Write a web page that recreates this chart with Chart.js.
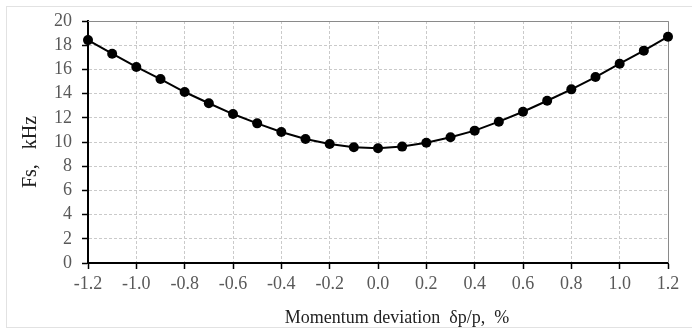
<!DOCTYPE html>
<html>
<head>
<meta charset="utf-8">
<script src="https://cdn.jsdelivr.net/npm/chart.js@4.4.1/dist/chart.umd.min.js"></script>
<style>
  html, body { margin: 0; padding: 0; background: #fff; }
  #wrap { position: relative; width: 692px; height: 329px; overflow: hidden; }
  #frame { position: absolute; left: 6px; top: 6px; width: 720px; height: 322px;
           box-sizing: border-box; border: 1px solid #e2e2e2; }
  #fsChart { position: absolute; left: 0; top: 0; }
</style>
</head>
<body>
<div id="wrap">
  <div id="frame"></div>
  <canvas id="fsChart" width="692" height="329"></canvas>
</div>
<script>
// momentum deviation (%) and synchrotron frequency (kHz)
const dpp = [-1.2, -1.1, -1.0, -0.9, -0.8, -0.7, -0.6, -0.5, -0.4, -0.3, -0.2, -0.1, 0.0,
             0.1, 0.2, 0.3, 0.4, 0.5, 0.6, 0.7, 0.8, 0.9, 1.0, 1.1, 1.2];
const fs = [18.42, 17.3, 16.2, 15.2, 14.13, 13.2, 12.31, 11.54, 10.83, 10.25, 9.83, 9.56, 9.48,
            9.62, 9.94, 10.39, 10.94, 11.68, 12.5, 13.41, 14.35, 15.37, 16.47, 17.55, 18.7];

const xTicks = [-1.2, -1.0, -0.8, -0.6, -0.4, -0.2, 0.0, 0.2, 0.4, 0.6, 0.8, 1.0, 1.2];
const xTickLabels = ['-1.2', '-1.0', '-0.8', '-0.6', '-0.4', '-0.2', '0.0', '0.2', '0.4', '0.6', '0.8', '1.0', '1.2'];
const yTicks = [0, 2, 4, 6, 8, 10, 12, 14, 16, 18, 20];
const yTickLabels = ['0', '2', '4', '6', '8', '10', '12', '14', '16', '18', '20'];

const xTitle = 'Momentum deviation  \u03b4p/p,  %';
const yTitle = 'Fs,   kHz';

const SERIF = '"Liberation Serif", "Times New Roman", serif';
const tickFont = { family: SERIF, size: 18 };

// gray frame on the top and right of the plot area
const plotFrame = {
  id: 'plotFrame',
  beforeDatasetsDraw(chart) {
    const { ctx, chartArea: a } = chart;
    ctx.save();
    ctx.strokeStyle = '#8a8a8a';
    ctx.lineWidth = 1;
    ctx.beginPath();
    ctx.moveTo(a.left, a.top + 0.5);
    ctx.lineTo(a.right + 0.5, a.top + 0.5);
    ctx.lineTo(a.right + 0.5, a.bottom);
    ctx.stroke();
    ctx.restore();
  }
};

// axis titles
const axisTitles = {
  id: 'axisTitles',
  afterDraw(chart) {
    const ctx = chart.ctx;
    ctx.save();
    ctx.fillStyle = '#222';
    ctx.textAlign = 'center';
    ctx.textBaseline = 'alphabetic';
    ctx.font = '18px ' + SERIF;
    ctx.fillText(xTitle, 397, 323);
    ctx.translate(36, 152);
    ctx.rotate(-Math.PI / 2);
    ctx.font = '20px ' + SERIF;
    ctx.fillText(yTitle, 0, 0);
    ctx.restore();
  }
};

function noPad(scale) {
  scale.paddingLeft = 0;
  scale.paddingRight = 0;
  scale.paddingTop = 0;
  scale.paddingBottom = 0;
}

new Chart(document.getElementById('fsChart'), {
  type: 'line',
  data: {
    datasets: [{
      data: dpp.map((x, i) => ({ x: x, y: fs[i] })),
      borderColor: '#000',
      backgroundColor: '#000',
      borderWidth: 2,
      pointRadius: 5,
      pointBackgroundColor: '#000',
      pointBorderWidth: 0,
      tension: 0,
      clip: false
    }]
  },
  options: {
    responsive: false,
    animation: false,
    devicePixelRatio: 1,
    layout: { padding: { left: 0, top: 21, right: 24, bottom: 0 } },
    plugins: { legend: { display: false }, tooltip: { enabled: false } },
    scales: {
      x: {
        type: 'linear',
        min: -1.2,
        max: 1.2,
        afterBuildTicks: s => { s.ticks = xTicks.map(v => ({ value: v })); },
        afterFit: s => { s.height = 66; noPad(s); },
        ticks: {
          callback: (v, i) => xTickLabels[i],
          font: tickFont,
          color: '#595959',
          padding: 4,
          maxRotation: 0,
          autoSkip: false
        },
        grid: { color: '#cacaca', lineWidth: 1, tickColor: '#000', tickLength: 6, tickWidth: 1.5, tickBorderDash: [] },
        border: { display: true, color: '#000', width: 2, dash: [3, 2] }
      },
      y: {
        min: 0,
        max: 20,
        afterBuildTicks: s => { s.ticks = yTicks.map(v => ({ value: v })); },
        afterFit: s => { s.width = 88; noPad(s); },
        ticks: {
          callback: (v, i) => yTickLabels[i],
          font: tickFont,
          color: '#595959',
          padding: 10,
          autoSkip: false
        },
        grid: { color: '#cacaca', lineWidth: 1, tickColor: '#000', tickLength: 6, tickWidth: 1.5, tickBorderDash: [] },
        border: { display: true, color: '#000', width: 2, dash: [3, 2] }
      }
    }
  },
  plugins: [plotFrame, axisTitles]
});
</script>
</body>
</html>
